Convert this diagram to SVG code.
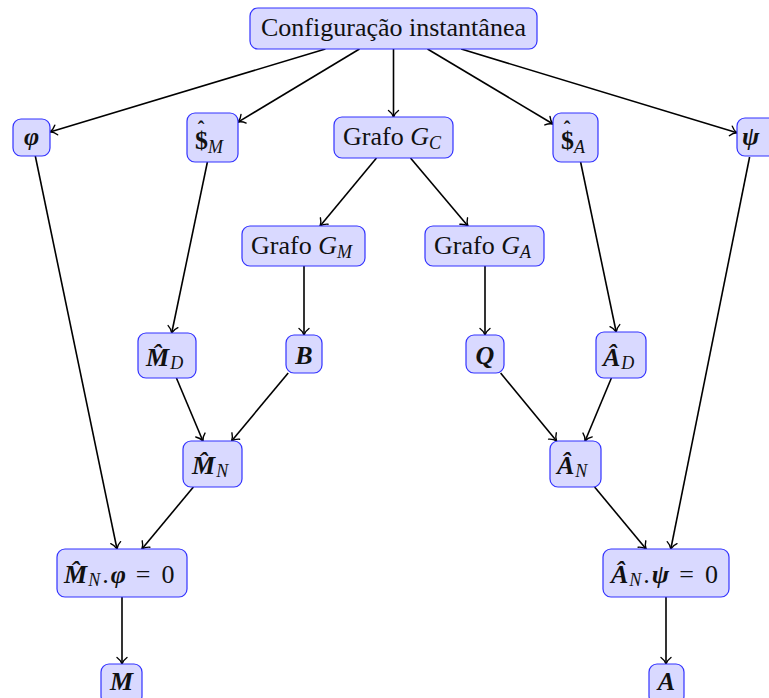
<svg xmlns="http://www.w3.org/2000/svg" width="769" height="698" viewBox="0 0 769 698">
<defs>
<marker id="arr" markerUnits="userSpaceOnUse" markerWidth="14" markerHeight="14" viewBox="-8 -7 10 14" refX="0" refY="0" orient="auto">
<path d="M -6.5 -5 C -4.5 -2.2 -1.8 -0.6 0 0 C -1.8 0.6 -4.5 2.2 -6.5 5" fill="none" stroke="#000" stroke-width="1.4" stroke-linecap="round"/>
</marker>
<style>
.box{fill:#d9d9ff;stroke:#3333ff;stroke-width:1.2}
.t{font-family:"Liberation Serif","Times New Roman",serif;font-size:26px;font-style:normal;font-weight:normal;fill:#111}
.m{font-family:"Liberation Serif","Times New Roman",serif;font-style:italic;font-weight:normal;font-size:26px;fill:#111}
.v{font-family:"Liberation Serif","Times New Roman",serif;font-style:italic;font-weight:bold;font-size:26px;fill:#111}
.b{font-family:"Liberation Serif","Times New Roman",serif;font-style:normal;font-weight:bold;font-size:26px;fill:#111}
.s{font-family:"Liberation Serif","Times New Roman",serif;font-style:italic;font-weight:normal;font-size:18px;fill:#111}
.h{font-family:"Liberation Serif","Times New Roman",serif;font-weight:bold;font-size:20px;fill:#111;text-anchor:middle}
.e{fill:none;stroke:#000;stroke-width:1.6;marker-end:url(#arr)}
</style>
</defs>
<g id="connectors">
<line class="e" x1="325.4" y1="49" x2="50" y2="131.9"/>
<line class="e" x1="359.5" y1="49" x2="238" y2="122.1"/>
<line class="e" x1="393.5" y1="49" x2="393.5" y2="117"/>
<line class="e" x1="427.5" y1="49" x2="553" y2="124"/>
<line class="e" x1="461.2" y1="49" x2="737" y2="132.8"/>
<line class="e" x1="376.5" y1="158" x2="320.1" y2="226"/>
<line class="e" x1="410.5" y1="158" x2="467.9" y2="226"/>
<line class="e" x1="207.4" y1="162" x2="171.7" y2="333"/>
<line class="e" x1="304" y1="266" x2="304" y2="335"/>
<line class="e" x1="485" y1="266" x2="485" y2="335"/>
<line class="e" x1="580.6" y1="162" x2="616.2" y2="332"/>
<line class="e" x1="176.4" y1="378" x2="202.9" y2="441"/>
<line class="e" x1="288.2" y1="373" x2="231.6" y2="441"/>
<line class="e" x1="500.6" y1="373" x2="556.6" y2="441"/>
<line class="e" x1="611.4" y1="378" x2="585.1" y2="441"/>
<line class="e" x1="35.3" y1="156" x2="117" y2="549"/>
<line class="e" x1="193.4" y1="487" x2="141.9" y2="549"/>
<line class="e" x1="594.6" y1="487" x2="646.1" y2="549"/>
<line class="e" x1="749.6" y1="157" x2="670.8" y2="549"/>
<line class="e" x1="122" y1="597" x2="122" y2="664"/>
<line class="e" x1="666" y1="597" x2="666" y2="664"/>
</g>
<g id="config">
<rect class="box" x="250" y="8" width="287" height="41" rx="8"/>
<text class="t" x="393.5" y="36" text-anchor="middle">Configuração instantânea</text>
</g>
<g id="phi">
<rect class="box" x="13" y="119" width="37" height="37" rx="8"/>
<text class="v" x="31.5" y="145" text-anchor="middle">φ</text>
</g>
<g id="sM">
<rect class="box" x="187" y="113" width="51" height="49" rx="8"/>
<text class="h" x="201" y="136">ˆ</text>
<text class="b" x="195" y="149">$<tspan class="s" dy="4">M</tspan></text>
</g>
<g id="GC">
<rect class="box" x="334" y="117" width="119" height="41" rx="8"/>
<text class="t" x="343" y="145">Grafo <tspan class="m">G</tspan><tspan class="s" dy="4">C</tspan></text>
</g>
<g id="sA">
<rect class="box" x="553" y="113" width="45" height="49" rx="8"/>
<text class="h" x="567" y="136">ˆ</text>
<text class="b" x="561" y="149">$<tspan class="s" dy="4">A</tspan></text>
</g>
<g id="psi">
<rect class="box" x="737" y="118" width="40" height="38" rx="8"/>
<text class="v" x="742" y="145">ψ</text>
</g>
<g id="GM">
<rect class="box" x="242" y="226" width="123" height="40" rx="8"/>
<text class="t" x="251" y="254">Grafo <tspan class="m">G</tspan><tspan class="s" dy="4">M</tspan></text>
</g>
<g id="GA">
<rect class="box" x="425" y="226" width="119" height="40" rx="8"/>
<text class="t" x="434" y="254">Grafo <tspan class="m">G</tspan><tspan class="s" dy="4">A</tspan></text>
</g>
<g id="MD">
<rect class="box" x="138" y="333" width="58" height="45" rx="8"/>
<text class="v" x="146" y="366">M̂<tspan class="s" dx="1" dy="3">D</tspan></text>
</g>
<g id="B">
<rect class="box" x="286" y="335" width="36" height="38" rx="8"/>
<text class="v" x="304" y="364" text-anchor="middle">B</text>
</g>
<g id="Q">
<rect class="box" x="466" y="335" width="38" height="38" rx="8"/>
<text class="v" x="485" y="364" text-anchor="middle">Q</text>
</g>
<g id="AD">
<rect class="box" x="596" y="332" width="50" height="46" rx="8"/>
<text class="v" x="603" y="366">Â<tspan class="s" dx="1" dy="3">D</tspan></text>
</g>
<g id="MN">
<rect class="box" x="183" y="441" width="59" height="46" rx="8"/>
<text class="v" x="192" y="474">M̂<tspan class="s" dx="1" dy="3">N</tspan></text>
</g>
<g id="AN">
<rect class="box" x="550" y="441" width="51" height="46" rx="8"/>
<text class="v" x="557" y="474">Â<tspan class="s" dx="1" dy="3">N</tspan></text>
</g>
<g id="MNphi">
<rect class="box" x="57" y="549" width="130" height="48" rx="8"/>
<text class="v" x="64" y="583">M̂<tspan class="s" dx="1" dy="3">N</tspan><tspan class="t" dx="2" dy="-3">.</tspan><tspan dx="2">φ</tspan><tspan class="t" dx="10">=</tspan><tspan class="t" dx="11">0</tspan></text>
</g>
<g id="ANpsi">
<rect class="box" x="603" y="549" width="126" height="48" rx="8"/>
<text class="v" x="611" y="583">Â<tspan class="s" dx="1" dy="3">N</tspan><tspan class="t" dx="2" dy="-3">.</tspan><tspan dx="2">ψ</tspan><tspan class="t" dx="10">=</tspan><tspan class="t" dx="11">0</tspan></text>
</g>
<g id="M">
<rect class="box" x="101" y="664" width="41" height="40" rx="8"/>
<text class="v" x="121.5" y="690" text-anchor="middle">M</text>
</g>
<g id="A">
<rect class="box" x="649" y="664" width="35" height="40" rx="8"/>
<text class="v" x="666.5" y="690" text-anchor="middle">A</text>
</g>
</svg>
